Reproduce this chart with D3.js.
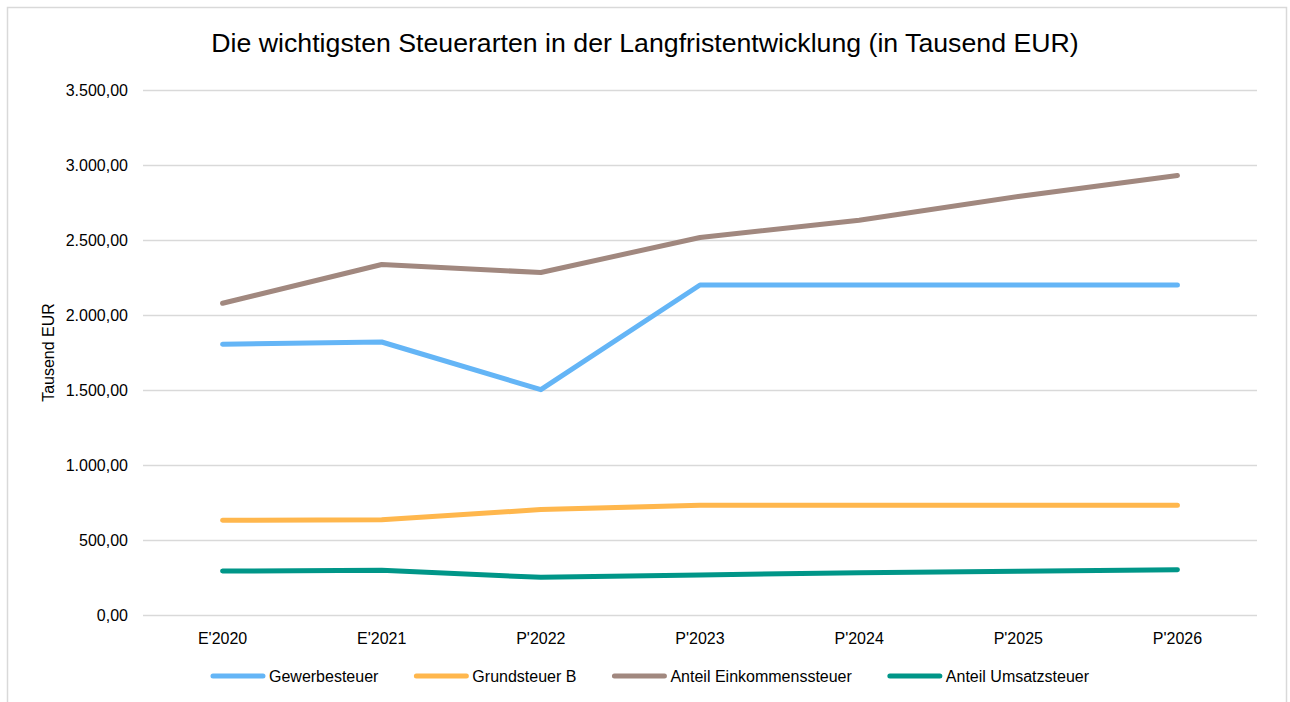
<!DOCTYPE html>
<html>
<head>
<meta charset="utf-8">
<script src="https://cdn.jsdelivr.net/npm/d3@7"></script>
<style>
  body { margin: 0; background: #fff; }
  svg { display: block; font-family: "Liberation Sans", Arial, sans-serif; }
</style>
</head>
<body>
<div id="chart"></div>
<script>
const categories = ["E'2020", "E'2021", "P'2022", "P'2023", "P'2024", "P'2025", "P'2026"];
const gewerbesteuer = [1805, 1820, 1502, 2200, 2200, 2200, 2200];
const grundsteuerB = [631, 635, 703, 731, 731, 731, 731];
const anteilEinkommensteuer = [2078, 2337, 2283, 2517, 2632, 2790, 2930];
const anteilUmsatzsteuer = [293, 298, 251, 267, 282, 292, 301];
const seriesNames = ["Gewerbesteuer", "Grundsteuer B", "Anteil Einkommenssteuer", "Anteil Umsatzsteuer"];
const seriesColors = ["#64b5f6", "#ffb74d", "#a1887f", "#009688"];
const yTicks = [0, 500, 1000, 1500, 2000, 2500, 3000, 3500];

const W = 1290, H = 702;
const margin = { top: 90, right: 33, bottom: 87, left: 143 };
const width = W - margin.left - margin.right;
const height = H - margin.top - margin.bottom;
const fontSize = "16px";

const series = [gewerbesteuer, grundsteuerB, anteilEinkommensteuer, anteilUmsatzsteuer]
  .map((values, i) => ({ name: seriesNames[i], color: seriesColors[i], values }));

const svg = d3.select("#chart").append("svg")
  .attr("width", W)
  .attr("height", H);

// outer frame (bottom edge runs off the picture)
svg.append("rect")
  .attr("x", 7.5).attr("y", 7.5)
  .attr("width", 1279).attr("height", 720)
  .attr("fill", "#fff")
  .attr("stroke", "#d9d9d9")
  .attr("stroke-width", 1.5);

svg.append("text")
  .attr("x", 645).attr("y", 52)
  .attr("text-anchor", "middle")
  .attr("font-size", "26.7px")
  .attr("fill", "#000")
  .text("Die wichtigsten Steuerarten in der Langfristentwicklung (in Tausend EUR)");

const x = d3.scaleBand()
  .domain(categories)
  .range([0, width]);

const y = d3.scaleLinear()
  .domain([0, 3500])
  .range([height, 0]);

const fmt = d3.formatLocale({ decimal: ",", thousands: ".", grouping: [3], currency: ["", " €"] }).format(",.2f");

const g = svg.append("g")
  .attr("transform", `translate(${margin.left}, ${margin.top})`);

// grid + y labels
const yAxis = d3.axisLeft(y)
  .tickValues(yTicks)
  .tickSize(-width)
  .tickPadding(15)
  .tickFormat(fmt);

g.append("g")
  .attr("class", "y-axis")
  .call(yAxis)
  .call(a => a.select(".domain").remove())
  .call(a => a.selectAll("line").attr("stroke", "#d9d9d9").attr("stroke-width", 1.5))
  .call(a => a.selectAll("text").attr("font-size", fontSize).attr("fill", "#000").attr("font-family", "Liberation Sans, Arial, sans-serif"));

const xAxis = d3.axisBottom(x)
  .tickSize(0)
  .tickPadding(18);

g.append("g")
  .attr("class", "x-axis")
  .attr("transform", `translate(0, ${height})`)
  .call(xAxis)
  .call(a => a.select(".domain").remove())
  .call(a => a.selectAll("text").attr("font-size", fontSize).attr("fill", "#000").attr("font-family", "Liberation Sans, Arial, sans-serif"));

svg.append("text")
  .attr("transform", `translate(54, ${margin.top + height / 2}) rotate(-90)`)
  .attr("text-anchor", "middle")
  .attr("font-size", fontSize)
  .attr("fill", "#000")
  .text("Tausend EUR");

const line = d3.line()
  .x((d, i) => x(categories[i]) + x.bandwidth() / 2)
  .y(d => y(d));

g.selectAll(".series")
  .data(series)
  .enter()
  .append("path")
  .attr("class", "series")
  .attr("d", d => line(d.values))
  .attr("fill", "none")
  .attr("stroke", d => d.color)
  .attr("stroke-width", 5)
  .attr("stroke-linecap", "round")
  .attr("stroke-linejoin", "round");

// legend
const legend = svg.append("g").attr("class", "legend");
const items = legend.selectAll("g")
  .data(series)
  .enter()
  .append("g");

items.append("line")
  .attr("x1", 2).attr("x2", 52)
  .attr("y1", 0).attr("y2", 0)
  .attr("stroke", d => d.color)
  .attr("stroke-width", 5)
  .attr("stroke-linecap", "round");

items.append("text")
  .attr("x", 58).attr("y", 6)
  .attr("font-size", fontSize)
  .attr("fill", "#000")
  .text(d => d.name);

let offset = 0;
const gap = 36;
items.each(function () {
  const w = 58 + this.querySelector("text").getComputedTextLength();
  d3.select(this).attr("transform", `translate(${offset}, 0)`);
  offset += w + gap;
});
const total = offset - gap;
legend.attr("transform", `translate(${650 - total / 2}, 676)`);
</script>
</body>
</html>
